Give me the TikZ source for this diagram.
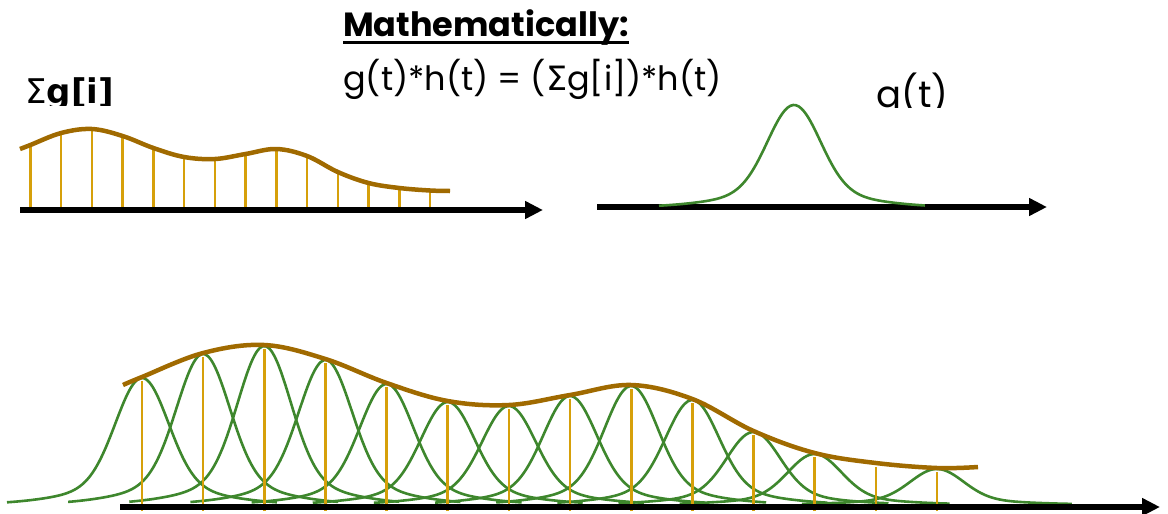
\documentclass[tikz,border=0pt]{standalone}
\usepackage{fontspec}
\newfontfamily\comic{Poppins}
\newfontfamily\djv{DejaVu Sans}
\usetikzlibrary{arrows.meta}
\definecolor{envbrown}{RGB}{160,106,0}
\definecolor{stemgold}{RGB}{214,160,10}
\definecolor{gauss}{RGB}{62,135,45}
\tikzset{
  axisline/.style={line width=6pt, -{Triangle[length=18pt,width=17pt]}},
  envelope/.style={envbrown, line width=4.5pt},
  stemline/.style={stemgold, line width=2.6pt},
  gaussline/.style={gauss, line width=2.6pt},
  lbl/.style={inner sep=0pt, anchor=base west},
}
\begin{document}
\begin{tikzpicture}[x=1pt,y=-1pt]
\useasboundingbox (0,0) rectangle (1168,514);
% ---------- texts ----------
\node[lbl, font=\comic\bfseries\fontsize{33.5}{38}\selectfont] (math) at (343,36) {Mathematically:};
\draw[line width=2.6pt] ([yshift=-6.5pt]math.base west) -- ([yshift=-6.5pt]math.base east);
\node[lbl, font=\comic\fontsize{33.5}{40}\selectfont] (eq) at (343,90) {g(t)*h(t) = ({\djv Σ}g[i])*h(t)};
\begin{scope}
  \clip (0,0) rectangle (300,105.5);
  \node[lbl, font=\djv\fontsize{34}{36}\selectfont] (sum) at (25,103) {Σ\textbf{g[i]}};
\end{scope}
\begin{scope}
  \clip (800,0) rectangle (1000,107.5);
  \node[lbl, font=\comic\fontsize{37}{42}\selectfont] (gt) at (876,107) {g(t)};
\end{scope}
% ---------- top left: samples ----------
\coordinate (a1s) at (20,210);
\coordinate (a1e) at (543,210);
\draw[axisline] (a1s) -- (a1e);
\foreach \h [count=\k from 0] in {65,77,81,74,62,53,51,56,61,54,38,27,22,19.5}
  \draw[stemline] ({30.4+30.74*\k},207) -- ({30.4+30.74*\k},{210-\h});
\draw[envelope] plot[smooth, tension=0.6] coordinates {(20,149) (30.4,145) (61.14,133) (91.88,129) (122.62,136) (153.36,148) (184.1,157) (214.84,159) (245.58,154) (276.32,149) (307.06,156) (337.8,172) (368.54,183) (399.28,188) (430.02,190.5) (450,191)};
% ---------- top right: g(t) ----------
\coordinate (a2s) at (597,207);
\coordinate (a2e) at (1047,207);
\draw[axisline] (a2s) -- (a2e);
\draw[gaussline] plot[domain=-1.35:1.31, samples=100, smooth] ({794+100*\x},{207.5-102.5*(0.85*exp(-7.396*\x*\x)+0.15*exp(-1.1834*\x*\x))});
% ---------- bottom: superposition ----------
\foreach \h [count=\k from 0] in {65,77,81,74,62,53,51,56,61,54,38,27,22,19.5}{
  \pgfmathsetmacro\X{142+61.15*\k}
  \pgfmathsetmacro\A{2*\h-3.5}
  \ifnum\k=12 \else
  \draw[gaussline] plot[domain=-1.35:1.35, samples=90, smooth] ({\X+100*\x},{504.5-\A*(0.85*exp(-7.396*\x*\x)+0.15*exp(-1.1834*\x*\x))});
  \fi
}
\foreach \h [count=\k from 0] in {65,77,81,74,62,53,51,56,61,54,38,27,22,19.5}
  \draw[stemline] ({142+61.15*\k},511) -- ({142+61.15*\k},{511-2*\h});
\coordinate (a3s) at (120,507);
\coordinate (a3e) at (1160,507);
\draw[axisline] (a3s) -- (a3e);
\draw[envelope] plot[smooth, tension=0.6] coordinates {(123,385) (142,377) (203.15,353) (264.3,345) (325.45,359) (386.6,383) (447.75,401) (508.9,405) (570.05,395) (631.2,385) (692.35,399) (753.5,431) (814.65,453) (875.8,463) (936.95,468) (978,467)};
\end{tikzpicture}
\end{document}
